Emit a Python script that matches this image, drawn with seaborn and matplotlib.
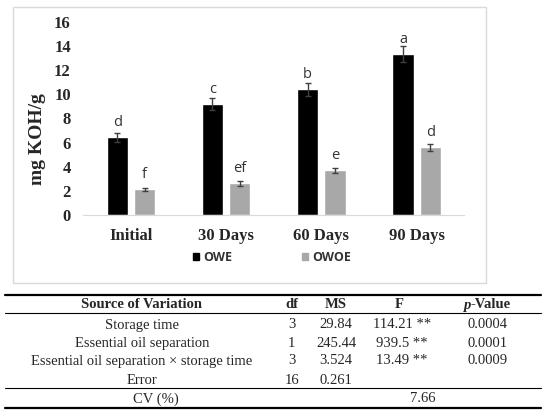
import matplotlib
matplotlib.use("Agg")
import matplotlib.pyplot as plt
import matplotlib.patches as mpatches
from matplotlib.lines import Line2D
import pandas as pd
import seaborn as sns

# chart data
periods = ["Initial", "30 Days", "60 Days", "90 Days"]
owe_mean = [6.43, 9.21, 10.40, 13.30]
owe_err = [0.35, 0.51, 0.54, 0.66]
owoe_mean = [2.13, 2.62, 3.70, 5.60]
owoe_err = [0.14, 0.19, 0.22, 0.29]
owe_letters = ["d", "c", "b", "a"]
owoe_letters = ["f", "ef", "e", "d"]
y_ticks = [0, 2, 4, 6, 8, 10, 12, 14, 16]

# table data
tbl_header = ["Source of Variation", "df", "MS", "F", "-Value"]
tbl_source = ["Storage time", "Essential oil separation",
              "Essential oil separation \u00d7 storage time", "Error"]
tbl_df = ["3", "1", "3", "16"]
tbl_ms = ["29.84", "245.44", "3.524", "0.261"]
tbl_f = ["114.21 **", "939.5 **", "13.49 **", ""]
tbl_p = ["0.0004", "0.0001", "0.0009", ""]
cv_label = "CV (%)"
cv_value = "7.66"

W, H = 550, 416


def fx(x):
    return x / W


def fy(y):
    return 1 - y / H


sns.set_style("white")
fig = plt.figure(figsize=(5.5, 4.16), dpi=100)

# chart frame
fig.add_artist(mpatches.Rectangle((fx(13.3), fy(282.7)), fx(485.7) - fx(13.3),
                                  fy(6.7) - fy(282.7), transform=fig.transFigure,
                                  fill=False, edgecolor="#d9d9d9", linewidth=1))

ax = fig.add_axes([fx(83.3), fy(215), fx(464.3) - fx(83.3), fy(21.7) - fy(215)])

df = pd.DataFrame({
    "period": periods * 2,
    "value": owe_mean + owoe_mean,
    "group": ["OWE"] * 4 + ["OWOE"] * 4,
})
colors = {"OWE": "#000000", "OWOE": "#a8a8a8"}
sns.barplot(data=df, x="period", y="value", hue="group", palette=colors,
            width=0.575, gap=0.224, errorbar=None, legend=False,
            saturation=1, ax=ax)

for cont, means, errs, letters in zip(ax.containers,
                                      [owe_mean, owoe_mean],
                                      [owe_err, owoe_err],
                                      [owe_letters, owoe_letters]):
    for bar, m, e, t in zip(cont, means, errs, letters):
        xc = bar.get_x() + bar.get_width() / 2
        ax.errorbar(xc, m, yerr=e, color="#404040", elinewidth=1,
                    capsize=2.5, capthick=1, fmt="none")
        ax.annotate(t, (xc, m), xytext=(0, 8), textcoords="offset points",
                    ha="center", va="baseline", fontsize=10.5,
                    family="Open Sans", color="#333333")

ax.set_ylim(0, 16)
ax.set_xlim(-0.5, 3.5)
ax.set_yticks(y_ticks)
ax.set_yticklabels([str(t) for t in y_ticks], family="Liberation Serif",
                   fontweight="bold", fontsize=12)
ax.set_xticks(range(4))
ax.set_xticklabels(periods, family="Liberation Serif", fontweight="bold",
                   fontsize=12)
ax.tick_params(axis="y", length=0, pad=9)
ax.tick_params(axis="x", length=0, pad=9)
ax.set_xlabel("")
ax.set_ylabel("")
for s in ["left", "top", "right"]:
    ax.spines[s].set_visible(False)
ax.spines["bottom"].set_color("#d9d9d9")
ax.patch.set_alpha(0)

fig.text(fx(37.5), fy(139), "mg KOH/g", rotation=90, ha="center", va="center",
         family="Liberation Serif", fontweight="bold", fontsize=14)

handles = [mpatches.Patch(color=colors["OWE"]), mpatches.Patch(color=colors["OWOE"])]
fig.legend(handles, ["OWE", "OWOE"], loc="center",
           bbox_to_anchor=(fx(271.7), fy(257.5)), ncol=2, frameon=False,
           handlelength=0.5, handleheight=0.5, handletextpad=0.3,
           columnspacing=5.6, prop={"family": "Open Sans", "weight": "bold", "size": 9},
           labelcolor="#333333")

# ANOVA table
x0, x1 = fx(5), fx(541)
for yy, lw in [(295, 1.6), (313.3, 0.8), (388.3, 0.8), (407.5, 1.6)]:
    fig.add_artist(Line2D([x0, x1], [fy(yy), fy(yy)], transform=fig.transFigure,
                          color="black", linewidth=lw))

serif = "Liberation Serif"
hdr_kw = dict(family=serif, fontweight="bold", fontsize=10.5, va="center")
fig.text(fx(141.7), fy(305), tbl_header[0], ha="center", **hdr_kw)
fig.text(fx(291.7), fy(305), tbl_header[1], ha="center", **hdr_kw)
fig.text(fx(336), fy(305), tbl_header[2], ha="center", **hdr_kw)
fig.text(fx(399.7), fy(305), tbl_header[3], ha="center", **hdr_kw)
fig.text(fx(470.7), fy(305), "p", ha="right", family=serif, fontweight="bold",
         fontstyle="italic", fontsize=10.5, va="center")
fig.text(fx(470.7), fy(305), tbl_header[4], ha="left", **hdr_kw)

row_y = [325, 343.3, 361, 380]
body_kw = dict(family=serif, fontsize=10.5, va="center", ha="center")
for yy, src, d, ms, f, p in zip(row_y, tbl_source, tbl_df, tbl_ms, tbl_f, tbl_p):
    fig.text(fx(141.7), fy(yy), src, **body_kw)
    fig.text(fx(291.7), fy(yy), d, **body_kw)
    fig.text(fx(336), fy(yy), ms, **body_kw)
    fig.text(fx(402), fy(yy), f, **body_kw)
    fig.text(fx(488), fy(yy), p, **body_kw)

fig.text(fx(156), fy(399), cv_label, **body_kw)
fig.text(fx(423), fy(399), cv_value, **body_kw)

fig.savefig("out.png", dpi=100)
